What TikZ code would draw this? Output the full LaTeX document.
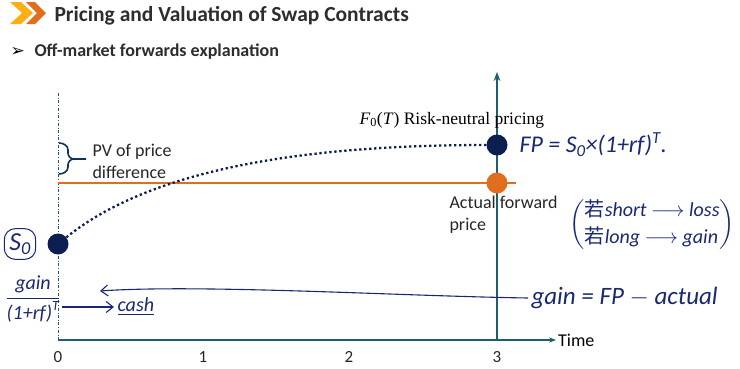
\documentclass[tikz,border=0pt]{standalone}
\usepackage{amsmath}
\usepackage{fontspec}
\setmainfont{Carlito}
\newfontfamily\timesface{Liberation Serif}
\newfontfamily\symface{DejaVu Sans}
\newfontfamily\cjk{Noto Sans CJK SC}
\usepackage{xcolor}
\usetikzlibrary{arrows.meta,positioning,calc,decorations.pathreplacing}
\definecolor{axisteal}{RGB}{30,95,110}
\definecolor{navy}{RGB}{12,30,80}
\definecolor{fwdorange}{RGB}{225,110,30}
\definecolor{chevyellow}{RGB}{250,175,20}
\definecolor{ink}{RGB}{25,40,115}
\definecolor{titlegray}{RGB}{45,45,45}

\begin{document}
\begin{tikzpicture}[x=1pt,y=-1pt,
  font=\fontsize{18}{22}\selectfont,
  axis/.style={axisteal,line width=1.6pt},
  dot/.style={circle,inner sep=0pt,minimum size=21pt},
  ticklab/.style={font=\fontsize{17}{20}\selectfont,text=black!85},
  note/.style={align=left,text=black!85,font=\fontsize{18}{22}\selectfont},
  hand/.style={text=ink,font=\fontsize{20}{24}\itshape\selectfont},
  handarrow/.style={ink,line width=1.1pt,-{Straight Barb[length=7pt,width=11pt]}}]
\useasboundingbox (0,0) rectangle (740,368);

% ---- header ----
\fill[chevyellow] (10,2) -- (21,2) -- (33,13) -- (21,24) -- (10,24) -- (22,13) -- cycle;
\fill[fwdorange] (26,2) -- (35,2) -- (46,13) -- (35,24) -- (26,24) -- (37,13) -- cycle;
\node[anchor=base west,text=titlegray,font=\fontsize{21.5}{24}\bfseries\selectfont]
  (title) at (51,21) {Pricing and Valuation of Swap Contracts};
\node[anchor=base west,font=\fontsize{17}{18}\symface\selectfont] (bullet) at (7,56) {➢};
\node[anchor=base west,text=titlegray,font=\fontsize{18}{20}\bfseries\selectfont]
  (subtitle) at (31,56) {Off-market forwards explanation};

% ---- axes ----
\coordinate (o) at (58,340);
\coordinate (tend) at (556,340);
\coordinate (t3) at (497,340);
\coordinate (ytop) at (497,72);
\draw[axisteal,thin,dash dot] (58,93) -- (o);
\draw[axis,-{Stealth[length=7pt]}] (o) -- (tend);
\draw[axis,-{Stealth[length=9pt]}] (t3) -- (ytop);
\node[anchor=west,inner sep=2pt] (time) at (tend) {Time};
\foreach \t/\x in {0/58,1/203,2/349,3/497}
  \node[ticklab] (tick\t) at (\x,357) {\t};

% ---- prices ----
\draw[fwdorange,line width=2pt] (58,183) -- (516,183);
\node[dot,fill=navy] (s0) at (58,244) {};
\node[dot,fill=navy] (fp) at (497,145) {};
\node[dot,fill=fwdorange] (af) at (497,183) {};
\draw[navy,line width=2.3pt,dash pattern=on 2.3pt off 2.7pt]
  (s0) .. controls (150,170) and (300,145) .. (fp);

% brace for the price gap
\draw[navy!70!axisteal,line width=1.6pt,line join=round]
  (59,143) to[out=0,in=90] (68,150) -- (68,153) to[out=-90,in=180] (74,159) -- (86,159)
  (59,174) to[out=0,in=-90] (68,167) -- (68,165) to[out=90,in=180] (74,159);
\node[note,anchor=west] (pv) at (89,161) {PV of price\\difference};
\node[anchor=base west,font=\fontsize{17.5}{20}\timesface\selectfont] (rnp) at (356,124)
  {\textit{F}\textsubscript{0}(\textit{T}) Risk-neutral pricing};
\node[note,anchor=west] (afp) at (446,215) {Actual forward\\price};

% ---- handwritten notes ----
\node[hand,draw=ink,line width=1pt,rounded corners=11pt,inner sep=5pt,
      font=\fontsize{26}{28}\itshape\selectfont] (s0note) at (20,244) {S\textsubscript{0}};
\node[hand,anchor=west,font=\fontsize{24}{26}\itshape\selectfont] (fpnote) at (516,145)
  {FP = S\textsubscript{0}×(1+rf)\textsuperscript{T}.};
\node[hand,anchor=west] (sides) at (566,225)
  {$\left(\begin{tabular}{@{}l@{}}{\cjk 若}short $\longrightarrow$ loss\\[3pt]{\cjk 若}long $\longrightarrow$ gain\end{tabular}\right)$};
\node[hand,anchor=west,font=\fontsize{25}{28}\itshape\selectfont] (gainnote) at (528,298)
  {gain = FP $-$ actual};
\node[hand,font=\fontsize{20}{22}\itshape\selectfont,inner sep=1pt] (disc) at (33,299)
  {$\dfrac{\textit{gain}}{\textit{(1+rf)}^{\textit{T}}}$};
\node[hand,anchor=west] (cash) at (114,307) {\underline{cash}};
\coordinate (back) at (100,291);
\draw[handarrow] (gainnote.west) .. controls (400,296) and (200,284) .. (back);
\draw[handarrow] (disc.east |- cash.west) -- (cash.west);
\end{tikzpicture}
\end{document}
